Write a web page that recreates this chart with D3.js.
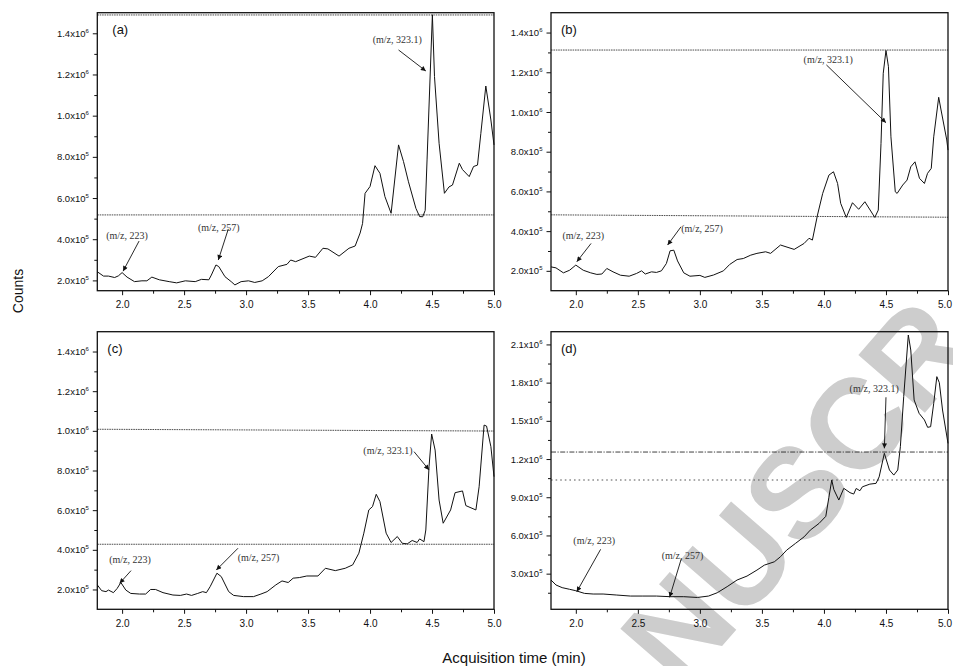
<!DOCTYPE html>
<html>
<head>
<meta charset="utf-8">
<script src="https://cdn.jsdelivr.net/npm/d3@7"></script>
<style>
  body { margin: 0; background: #fff; }
  svg { display: block; }
</style>
</head>
<body>
<svg id="chart" width="953" height="666"></svg>
<script>
// Counts are stored in units of 1e5.
const UNIT = 1e5;

// ---- Panel (a) ----
const timeA = [1.80,1.85,1.89,1.94,1.97,2.00,2.04,2.10,2.16,2.20,2.24,2.30,2.38,2.44,2.51,2.59,2.64,2.70,2.72,2.757,2.78,2.83,2.88,2.91,2.96,3.02,3.07,3.13,3.18,3.26,3.33,3.36,3.40,3.51,3.56,3.62,3.66,3.75,3.83,3.88,3.92,3.94,3.96,4.00,4.04,4.08,4.12,4.17,4.23,4.27,4.31,4.37,4.40,4.425,4.445,4.46,4.503,4.52,4.557,4.60,4.637,4.665,4.72,4.746,4.80,4.835,4.867,4.894,4.934,4.975,5.00];
const countsA = [2.42,2.21,2.21,2.14,2.22,2.38,2.16,1.94,1.98,1.98,2.16,2.03,1.94,1.88,1.98,1.94,2.05,2.03,2.26,2.75,2.67,2.18,1.94,1.78,1.94,1.98,1.90,1.98,2.18,2.67,2.78,2.99,2.91,3.18,3.12,3.56,3.53,3.18,3.56,3.67,4.30,4.77,6.23,6.56,7.57,7.20,6.07,5.26,8.58,7.77,6.79,5.50,5.10,5.09,5.40,7.85,14.9,11.9,8.66,6.23,6.54,6.63,7.69,7.38,7.04,7.53,7.60,9.14,11.44,9.79,8.58];

// ---- Panel (b) ----
const timeB = [1.80,1.84,1.90,1.95,2.00,2.06,2.12,2.17,2.21,2.25,2.30,2.36,2.43,2.49,2.53,2.56,2.61,2.65,2.69,2.73,2.76,2.79,2.82,2.87,2.92,3.00,3.04,3.11,3.19,3.24,3.30,3.35,3.41,3.46,3.53,3.57,3.65,3.76,3.84,3.88,3.907,3.948,3.99,4.04,4.077,4.11,4.135,4.18,4.23,4.28,4.33,4.41,4.438,4.46,4.478,4.50,4.52,4.54,4.575,4.59,4.635,4.67,4.70,4.734,4.77,4.81,4.835,4.865,4.885,4.925,4.944,4.99,5.00];
const countsB = [2.20,2.15,1.90,2.03,2.29,2.03,1.90,1.82,1.84,2.12,1.95,1.78,1.73,1.87,2.00,1.84,1.95,1.92,2.00,2.37,3.01,3.04,2.50,1.90,1.73,1.77,1.67,1.79,2.00,2.32,2.57,2.62,2.79,2.88,2.96,2.88,3.30,3.08,3.38,3.64,3.55,4.81,5.90,6.82,6.99,6.40,5.40,4.69,5.43,5.10,5.48,4.69,5.06,8.42,11.95,13.1,12.28,8.75,5.98,5.90,6.32,6.57,7.24,7.49,6.66,6.40,6.91,7.16,8.75,10.74,10.10,8.59,8.08];

// ---- Panel (c) ----
const timeC = [1.80,1.835,1.87,1.89,1.93,1.96,1.99,2.03,2.07,2.14,2.19,2.23,2.27,2.33,2.41,2.47,2.52,2.56,2.61,2.65,2.68,2.71,2.765,2.80,2.86,2.90,2.98,3.06,3.12,3.17,3.24,3.29,3.34,3.38,3.43,3.49,3.58,3.64,3.72,3.80,3.86,3.91,3.95,3.99,4.02,4.05,4.08,4.13,4.17,4.22,4.26,4.30,4.34,4.38,4.40,4.435,4.45,4.476,4.497,4.525,4.557,4.59,4.65,4.686,4.746,4.773,4.854,4.88,4.92,4.94,4.975,5.00];
const countsC = [2.23,1.94,1.89,1.97,1.84,2.05,2.35,1.97,1.80,1.77,1.77,2.00,2.00,1.84,1.72,1.70,1.77,1.70,1.80,1.89,1.84,2.14,2.82,2.65,1.89,1.70,1.64,1.64,1.77,1.89,2.23,2.43,2.35,2.57,2.60,2.68,2.68,3.07,2.95,3.07,3.24,3.83,4.84,6.01,6.18,6.80,6.43,4.84,4.37,4.67,4.33,4.30,4.47,4.37,4.55,4.41,5.00,8.20,9.84,9.03,6.51,5.34,6.01,6.88,6.97,6.23,6.01,7.18,10.29,10.24,9.20,7.69];

// ---- Panel (d) ----
const timeD = [1.80,1.84,1.89,1.95,2.00,2.07,2.14,2.22,2.33,2.44,2.54,2.65,2.76,2.87,2.98,3.07,3.14,3.22,3.30,3.38,3.46,3.52,3.60,3.65,3.70,3.77,3.84,3.89,3.96,4.015,4.04,4.063,4.08,4.12,4.16,4.21,4.24,4.26,4.29,4.31,4.37,4.42,4.445,4.487,4.528,4.563,4.595,4.616,4.643,4.68,4.70,4.727,4.767,4.81,4.836,4.86,4.885,4.91,4.93,4.956,5.00];
const countsD = [2.50,2.11,1.90,1.77,1.66,1.45,1.40,1.40,1.32,1.24,1.24,1.24,1.19,1.19,1.13,1.24,1.50,1.98,2.50,2.81,3.28,3.67,3.93,4.33,4.85,5.37,5.89,6.42,6.94,7.50,9.00,10.35,9.60,8.78,9.70,9.36,9.25,9.69,9.51,9.82,10.03,10.09,10.60,12.45,11.14,10.74,11.14,12.97,16.90,21.74,20.56,16.64,15.59,15.07,14.49,14.54,16.38,18.47,18.00,15.85,13.23];

// Axis ticks
const xMajor = [2.0, 2.5, 3.0, 3.5, 4.0, 4.5, 5.0];
const xMinor = [2.25, 2.75, 3.25, 3.75, 4.25, 4.75];
const yMajorABC = [2e5, 4e5, 6e5, 8e5, 1.0e6, 1.2e6, 1.4e6];
const yMinorABC = [3e5, 5e5, 7e5, 9e5, 1.1e6, 1.3e6];
const yMajorD = [3e5, 6e5, 9e5, 1.2e6, 1.5e6, 1.8e6, 2.1e6];
const yMinorD = [1.5e5, 4.5e5, 7.5e5, 1.05e6, 1.35e6, 1.65e6, 1.95e6];

// Threshold lines: [value at left, value at right] (1e5 counts)
const linesA = [[14.89, 14.89], [5.18, 5.18]];
const linesB = [[13.12, 13.12], [4.82, 4.70]];
const linesC = [[10.08, 9.99], [4.28, 4.28]];
const linesD = [[12.55, 12.55], [10.35, 10.35]];

// Peak annotations: [label, text t, text v, arrow-from t, v, arrow-to t, v]
const notesA = [
  ["(m/z, 223)", 2.04, 4.16, 2.137, 3.91, 2.008, 2.45],
  ["(m/z, 257)", 2.78, 4.59, 2.857, 4.50, 2.776, 2.99],
  ["(m/z, 323.1)", 4.22, 13.72, 4.23, 13.19, 4.45, 12.17]
];
const notesB = [
  ["(m/z, 223)", 2.06, 3.80, 2.123, 3.38, 2.008, 2.46],
  ["(m/z, 257)", 3.018, 4.14, 2.848, 4.22, 2.74, 3.30],
  ["(m/z, 323.1)", 4.034, 12.65, 4.02, 12.37, 4.50, 9.46]
];
const notesC = [
  ["(m/z, 223)", 2.064, 3.52, 2.072, 2.95, 1.98, 2.31],
  ["(m/z, 257)", 3.10, 3.62, 2.935, 4.08, 2.76, 2.98],
  ["(m/z, 323.1)", 4.144, 9.03, 4.355, 8.95, 4.476, 8.03]
];
const notesD = [
  ["(m/z, 223)", 2.148, 5.64, 2.20, 4.91, 2.008, 1.58],
  ["(m/z, 257)", 2.86, 4.39, 2.849, 4.13, 2.756, 1.14],
  ["(m/z, 323.1)", 4.405, 17.56, 4.50, 16.85, 4.487, 12.84]
];

const panels = [
  { tag: "(a)", t: timeA, c: countsA, lines: linesA, notes: notesA, edge: false,
    left: 97.3, top: 12.7, w: 396.7, h: 278, yDom: [1.5e5, 1.5e6],
    yMajor: yMajorABC, yMinor: yMinorABC, dashStyles: ["dense", "dense"] },
  { tag: "(b)", t: timeB, c: countsB, lines: linesB, notes: notesB, edge: true,
    left: 551, top: 12.7, w: 397, h: 278, yDom: [1.0e5, 1.5e6],
    yMajor: yMajorABC, yMinor: yMinorABC, dashStyles: ["dense", "dense"] },
  { tag: "(c)", t: timeC, c: countsC, lines: linesC, notes: notesC, edge: false,
    left: 97.3, top: 331.7, w: 396.7, h: 277.6, yDom: [1.0e5, 1.5e6],
    yMajor: yMajorABC, yMinor: yMinorABC, dashStyles: ["dense", "dense"] },
  { tag: "(d)", t: timeD, c: countsD, lines: linesD, notes: notesD, edge: true,
    left: 551, top: 331.7, w: 397, h: 277.6, yDom: [2e4, 2.2e6],
    yMajor: yMajorD, yMinor: yMinorD, dashStyles: ["dashdot", "dotted"] }
];

const dashMap = {
  dense:   { dash: "1.6,0.8", color: "#3a3a3a", width: 0.9 },
  dashdot: { dash: "5,1.5,1.2,1.5", color: "#2a2a2a", width: 0.9 },
  dotted:  { dash: "1.6,3", color: "#555", width: 1.1 }
};

const svg = d3.select("#chart");
const SANS = "'Liberation Sans', Arial, Helvetica, sans-serif";
const SERIF = "'Liberation Serif', 'Times New Roman', serif";

// Watermark behind the plots
svg.append("text")
  .attr("transform", "translate(797,492) rotate(-49)")
  .attr("text-anchor", "middle")
  .attr("dominant-baseline", "central")
  .attr("font-family", SANS)
  .attr("font-weight", "bold")
  .attr("font-size", 128)
  .attr("fill", "#cdcdcd")
  .text("NUSCR");

const defs = svg.append("defs");
defs.append("marker")
  .attr("id", "arrowHead")
  .attr("viewBox", "0 0 10 10")
  .attr("refX", 10).attr("refY", 5)
  .attr("markerWidth", 7).attr("markerHeight", 5)
  .attr("markerUnits", "userSpaceOnUse")
  .attr("orient", "auto")
  .append("path")
  .attr("d", "M0,0 L10,5 L0,10 Z")
  .attr("fill", "#111");

function sciParts(v) {
  const e = Math.floor(Math.log10(v) + 1e-9);
  const m = v / Math.pow(10, e);
  return [m.toFixed(1) + "x10", String(e)];
}

panels.forEach(p => {
  const g = svg.append("g").attr("transform", `translate(${p.left},${p.top})`);
  const x = d3.scaleLinear().domain([1.8, 5.0]).range([0, p.w]);
  const y = d3.scaleLinear().domain(p.yDom).range([p.h, 0]);

  // minor ticks
  g.append("g").attr("transform", `translate(0,${p.h})`)
    .call(d3.axisBottom(x).tickValues(xMinor).tickSize(3).tickSizeOuter(0).tickFormat(""))
    .call(a => a.select(".domain").remove());
  g.append("g")
    .call(d3.axisLeft(y).tickValues(p.yMinor).tickSize(3).tickSizeOuter(0).tickFormat(""))
    .call(a => a.select(".domain").remove());

  // major x axis
  const xa = g.append("g").attr("transform", `translate(0,${p.h})`)
    .call(d3.axisBottom(x).tickValues(xMajor).tickSize(4.5).tickSizeOuter(0).tickPadding(6)
      .tickFormat(d3.format(".1f")));
  xa.select(".domain").remove();
  xa.selectAll("text").attr("font-family", SANS).attr("font-size", 10).attr("fill", "#111");
  // keep the last label inside the page at the right edge
  if (p.edge) xa.selectAll("text").filter(d => d === 5.0).attr("dx", -3.5);

  // major y axis with power-of-ten labels
  const ya = g.append("g")
    .call(d3.axisLeft(y).tickValues(p.yMajor).tickSize(4.5).tickSizeOuter(0).tickPadding(4));
  ya.select(".domain").remove();
  ya.selectAll(".tick text").each(function(d) {
    const [m, e] = sciParts(d);
    const t = d3.select(this).text(m)
      .attr("font-family", SANS).attr("font-size", 9.5).attr("fill", "#111");
    t.append("tspan").attr("dy", -4).attr("font-size", 6).text(e);
  });
  g.selectAll(".tick line").attr("stroke", "#111").attr("stroke-width", 1);

  // threshold lines
  p.lines.forEach((ln, i) => {
    const st = dashMap[p.dashStyles[i]];
    g.append("line")
      .attr("x1", x(1.8)).attr("x2", x(5.0))
      .attr("y1", y(ln[0] * UNIT)).attr("y2", y(ln[1] * UNIT))
      .attr("stroke", st.color).attr("stroke-width", st.width)
      .attr("stroke-dasharray", st.dash);
  });

  // chromatogram trace
  const pts = p.t.map((t, i) => [t, p.c[i] * UNIT]);
  g.append("path")
    .datum(pts)
    .attr("fill", "none")
    .attr("stroke", "#111")
    .attr("stroke-width", 1)
    .attr("stroke-linejoin", "round")
    .attr("d", d3.line().x(d => x(d[0])).y(d => y(d[1])));

  // annotations
  p.notes.forEach(n => {
    g.append("text")
      .attr("x", x(n[1])).attr("y", y(n[2] * UNIT))
      .attr("dy", "0.35em")
      .attr("text-anchor", "middle")
      .attr("font-family", SERIF).attr("font-size", 10).attr("fill", "#333")
      .text(n[0]);
    g.append("line")
      .attr("x1", x(n[3])).attr("y1", y(n[4] * UNIT))
      .attr("x2", x(n[5])).attr("y2", y(n[6] * UNIT))
      .attr("stroke", "#111").attr("stroke-width", 0.9)
      .attr("marker-end", "url(#arrowHead)");
  });

  // panel tag
  g.append("text")
    .attr("x", p.tag === "(a)" ? 15 : 10).attr("y", 21)
    .attr("font-family", SANS).attr("font-size", 13).attr("fill", "#111")
    .text(p.tag);

  // frame
  g.append("rect")
    .attr("width", p.w).attr("height", p.h)
    .attr("fill", "none").attr("stroke", "#111").attr("stroke-width", 1.3);
});

// Axis titles
svg.append("text")
  .attr("transform", "translate(23,291) rotate(-90)")
  .attr("text-anchor", "middle")
  .attr("font-family", SANS).attr("font-size", 14).attr("fill", "#111")
  .text("Counts");
svg.append("text")
  .attr("x", 514).attr("y", 663)
  .attr("text-anchor", "middle")
  .attr("font-family", SANS).attr("font-size", 15).attr("fill", "#111")
  .text("Acquisition time (min)");
</script>
</body>
</html>
